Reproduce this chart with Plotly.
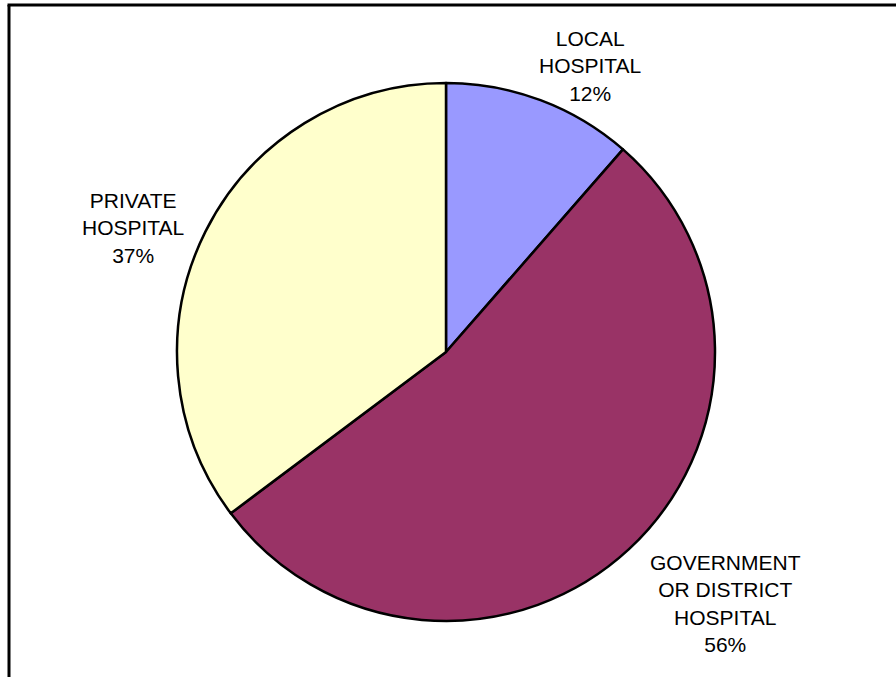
import plotly.graph_objects as go

# Share of respondents by type of hospital used
categories = ["LOCAL<br>HOSPITAL", "GOVERNMENT<br>OR DISTRICT<br>HOSPITAL", "PRIVATE<br>HOSPITAL"]
shares = [12, 56, 37]
colors = ["#9999FF", "#993366", "#FFFFCC"]

# Label anchor points (paper coordinates)
label_x = [590 / 896, 725 / 896, 133 / 896]
label_y = [1 - 66 / 677, 1 - 603 / 677, 1 - 228 / 677]

W, H = 896, 677
cx, cy, r = 446, 352, 269

fig = go.Figure(
    go.Pie(
        labels=categories,
        values=shares,
        sort=False,
        direction="clockwise",
        rotation=0,
        marker=dict(colors=colors, line=dict(color="black", width=2.5)),
        textinfo="none",
        hoverinfo="label+value",
        showlegend=False,
        domain=dict(
            x=[(cx - r) / W, (cx + r) / W],
            y=[(H - cy - r) / H, (H - cy + r) / H],
        ),
    )
)

for name, val, x, y in zip(categories, shares, label_x, label_y):
    fig.add_annotation(
        x=x, y=y, xref="paper", yref="paper",
        text=f"{name}<br>{val}%",
        showarrow=False, xanchor="center", yanchor="middle", align="center",
        font=dict(family="Liberation Sans, Arial, sans-serif", size=21, color="black"),
    )

# Chart frame: left and top edges
fig.add_shape(type="line", xref="paper", yref="paper",
              x0=9 / W, y0=-0.01, x1=9 / W, y1=1 - 5 / H,
              line=dict(color="black", width=3))
fig.add_shape(type="line", xref="paper", yref="paper",
              x0=7.5 / W, y0=1 - 5 / H, x1=1.01, y1=1 - 5 / H,
              line=dict(color="black", width=3))

fig.update_layout(
    width=W, height=H,
    margin=dict(l=0, r=0, t=0, b=0),
    paper_bgcolor="white", plot_bgcolor="white",
)

fig.write_html("out.html")
